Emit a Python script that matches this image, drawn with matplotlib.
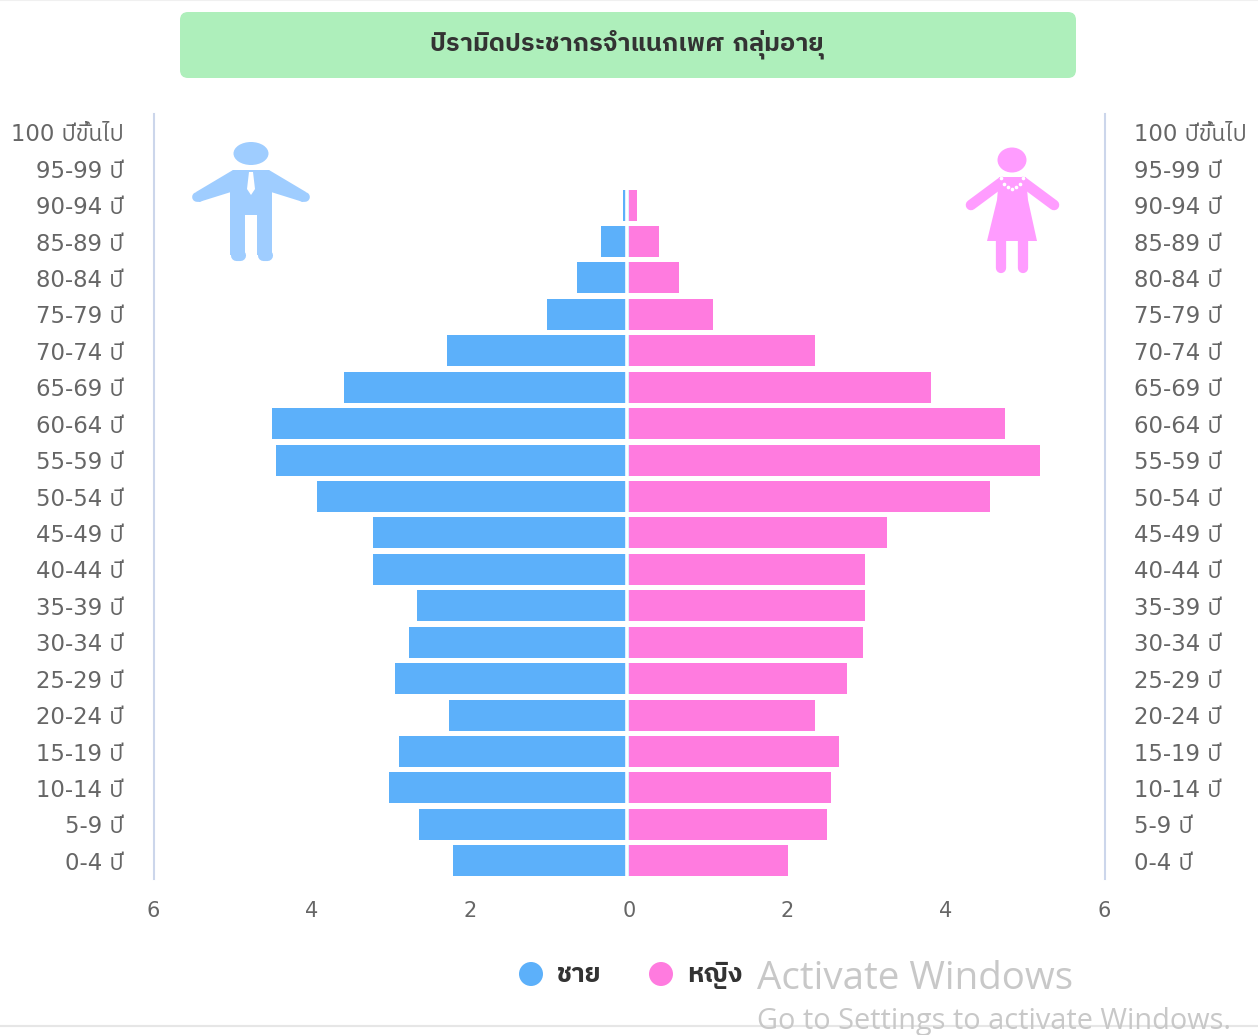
import matplotlib
matplotlib.use('Agg')
import matplotlib.pyplot as plt
from matplotlib import font_manager as fm
from matplotlib.patches import Circle, Ellipse, FancyBboxPatch, Polygon

age_labels = ['100 ปีขึ้นไป', '95-99 ปี', '90-94 ปี', '85-89 ปี', '80-84 ปี', '75-79 ปี', '70-74 ปี',
              '65-69 ปี', '60-64 ปี', '55-59 ปี', '50-54 ปี', '45-49 ปี', '40-44 ปี', '35-39 ปี',
              '30-34 ปี', '25-29 ปี', '20-24 ปี', '15-19 ปี', '10-14 ปี', '5-9 ปี', '0-4 ปี']
male = [0, 0, 0.07, 0.35, 0.65, 1.03, 2.30, 3.60, 4.50, 4.45, 3.94, 3.23, 3.23, 2.68,
        2.78, 2.95, 2.27, 2.90, 3.03, 2.65, 2.22]
female = [0, 0, 0.10, 0.38, 0.63, 1.06, 2.35, 3.81, 4.75, 5.18, 4.55, 3.26, 2.98, 2.98,
          2.95, 2.75, 2.35, 2.65, 2.55, 2.50, 2.00]
x_ticks = [-6, -4, -2, 0, 2, 4, 6]
x_tick_labels = ['6', '4', '2', '0', '2', '4', '6']
title = 'ปิรามิดประชากรจำแนกเพศ กลุ่มอายุ'

BLUE = '#5CB0FA'
PINK = '#FF7BDF'
W, H = 1258, 1035


def thai_font():
    # first installed family that has Thai glyphs, sans faces first
    names = []
    for f in fm.fontManager.ttflist:
        try:
            if 0x0E1B in fm.get_font(f.fname).get_charmap():
                names.append(f.name)
        except Exception:
            pass
    names = sorted(set(names), key=lambda n: ('Sans' not in n, n))
    return names[0] if names else None


thai = thai_font()
plt.rcParams['font.family'] = ['DejaVu Sans', thai] if thai else ['DejaVu Sans']

fig = plt.figure(figsize=(W / 100, H / 100), dpi=100)

# chart area in reference pixels: x 153.5-1104.5, y 114-879
ax = fig.add_axes([153.5 / W, 1 - 879 / H, 951 / W, 765 / H])
y = list(range(len(age_labels)))
ax.barh(y, [-v for v in male], height=0.85, color=BLUE)
ax.barh(y, female, height=0.85, color=PINK)
ax.axvline(-0.02, color='white', lw=2.6)
ax.set_xlim(-6, 6)
ax.set_ylim(len(age_labels) - 0.5, -0.5)
ax.set_yticks(y)
ax.set_yticklabels(age_labels)
ax.set_xticks(x_ticks)
ax.set_xticklabels(x_tick_labels)
ax.tick_params(axis='y', length=0, labelleft=True, labelright=True, pad=21.5,
               labelsize=16.4, labelcolor='#666666')
ax.tick_params(axis='x', length=0, pad=15.5, labelsize=15, labelcolor='#666666')
for side in ['top', 'bottom']:
    ax.spines[side].set_visible(False)
for side in ['left', 'right']:
    ax.spines[side].set_color('#CCD6EB')
    ax.spines[side].set_linewidth(1.5)

# overlay in pixel coordinates for the banner, icons and legend
ov = fig.add_axes([0, 0, 1, 1], zorder=5)
ov.set_xlim(0, W)
ov.set_ylim(H, 0)
ov.axis('off')
ov.patch.set_alpha(0)

ov.add_patch(FancyBboxPatch((180, 12), 896, 66, boxstyle='round,pad=0,rounding_size=8',
                            lw=0, fc='#AEEFBB'))
ov.text(627, 44, title, ha='center', va='center', fontsize=18.3, fontweight='bold', color='#333333')

# man icon
man = '#9FCDFF'
ov.add_patch(Ellipse((251, 153.5), 35, 23, color=man, lw=0))
ov.add_patch(Polygon([[233, 170], [269, 170], [272, 178], [272, 255], [257, 255], [257, 215],
                      [245, 215], [245, 255], [230, 255], [230, 178]], color=man, lw=0))
for leg_x in [237.5, 264.5]:
    ov.plot([leg_x - 2, leg_x + 2], [255, 255], color=man, lw=8, solid_capstyle='round')
ov.add_patch(Polygon([[233, 170], [240, 170], [231, 192], [199, 202], [196, 192]], color=man, lw=0))
ov.add_patch(Polygon([[269, 170], [262, 170], [271, 192], [303, 202], [306, 192]], color=man, lw=0))
ov.plot([199, 197], [197, 197], color=man, lw=7, solid_capstyle='round')
ov.plot([303, 305], [197, 197], color=man, lw=7, solid_capstyle='round')
ov.add_patch(Polygon([[249, 172], [253, 172], [255, 189], [251, 195], [247, 189]], color='white', lw=0))

# woman icon
woman = '#FF9CFF'
ov.add_patch(Ellipse((1012, 160), 29, 25, color=woman, lw=0))
ov.add_patch(Polygon([[999, 177], [1026, 177], [1028, 200], [1037, 241], [987, 241], [997, 200]],
                     color=woman, lw=0))
ov.plot([1002, 971], [182, 205], color=woman, lw=7.6, solid_capstyle='round')
ov.plot([1023, 1054], [182, 205], color=woman, lw=7.6, solid_capstyle='round')
for leg_x in [1001, 1023]:
    ov.plot([leg_x, leg_x], [240, 268], color=woman, lw=7.4, solid_capstyle='round')
ov.plot([1001, 1004, 1008, 1012, 1016, 1020, 1023], [178, 184, 187, 189, 187, 184, 178],
        ls='none', marker='o', ms=1.6, color='white')

# legend
ov.add_patch(Circle((531, 974), 12, color=BLUE, lw=0))
ov.add_patch(Circle((661, 974), 12, color=PINK, lw=0))
ov.text(557, 975, 'ชาย', va='center', fontsize=19, fontweight='bold', color='#333333')
ov.text(687, 975, 'หญิง', va='center', fontsize=19, fontweight='bold', color='#333333')

# screen capture leftovers
ov.plot([0, W], [1026, 1026], color='#E6E6E6', lw=1.5)
ov.plot([0, W], [0, 0], color='#F0F0F0', lw=1.5)
ov.text(757, 979, 'Activate Windows', va='center', fontsize=27.7, color='#C8C8C8', family='Open Sans')
ov.text(757, 1022, 'Go to Settings to activate Windows.', va='center', fontsize=20.8, color='#C8C8C8',
        family='Open Sans')

fig.savefig('out.png', dpi=100)
